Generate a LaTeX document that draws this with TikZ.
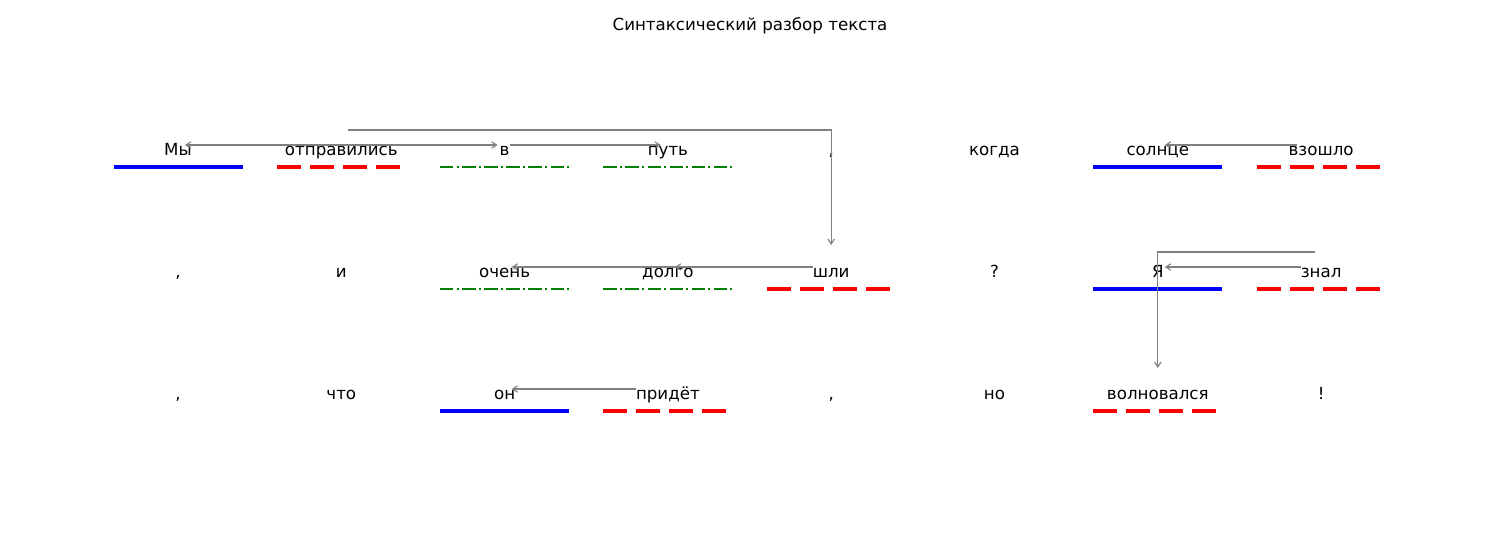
\documentclass[tikz,border=0pt]{standalone}
\usepackage{fontspec}
\setmainfont{DejaVu Sans}
\usetikzlibrary{arrows.meta}
\newcommand{\undl}[2]{\draw[#1] ([xshift=-46.44pt,yshift=-13.68pt]#2.center) -- ++(92.88pt,0pt);}
\begin{document}
\begin{tikzpicture}[x=0.72pt,y=-0.72pt,
 word/.style={font=\fontsize{12pt}{14pt}\selectfont, inner sep=0pt, text height=12.4pt, text depth=2.3pt, anchor=center},
 link/.style={draw=gray, line width=0.8pt, -{Straight Barb[length=3.6pt,width=4.6pt]}},
 subj/.style={draw=blue, line width=2.2pt},
 pred/.style={draw=red, line width=2.6pt, dash pattern=on 17.28pt off 6.48pt},
 minor/.style={draw=green!50!black, line width=1.5pt, dash pattern=on 9.6pt off 2.4pt on 1.5pt off 2.4pt}]
\useasboundingbox (0,0) rectangle (1500,560);
\node[word] (title) at (750,23) {Синтаксический разбор текста};
% row 1
\node[word] (my) at (178,148) {Мы};
\node[word] (otp) at (341.3,148) {отправились};
\node[word] (v) at (504.6,148) {в};
\node[word] (put) at (667.9,148) {путь};
\node[word] (c1) at (831.2,148) {,};
\node[word] (kogda) at (994.5,148) {когда};
\node[word] (solnce) at (1157.8,148) {солнце};
\node[word] (vzoshlo) at (1321.1,148) {взошло};
% row 2
\node[word] (c2) at (178,270) {,};
\node[word] (i) at (341.3,270) {и};
\node[word] (ochen) at (504.6,270) {очень};
\node[word] (dolgo) at (667.9,270) {долго};
\node[word] (shli) at (831.2,270) {шли};
\node[word] (q) at (994.5,270) {?};
\node[word] (ya) at (1157.8,270) {Я};
\node[word] (znal) at (1321.1,270) {знал};
% row 3
\node[word] (c3) at (178,392) {,};
\node[word] (chto) at (341.3,392) {что};
\node[word] (on) at (504.6,392) {он};
\node[word] (pridet) at (667.9,392) {придёт};
\node[word] (c4) at (831.2,392) {,};
\node[word] (no) at (994.5,392) {но};
\node[word] (volnov) at (1157.8,392) {волновался};
\node[word] (excl) at (1321.1,392) {!};
% underlines
\undl{subj}{my}
\undl{pred}{otp}
\undl{minor}{v}
\undl{minor}{put}
\undl{subj}{solnce}
\undl{pred}{vzoshlo}
\undl{minor}{ochen}
\undl{minor}{dolgo}
\undl{pred}{shli}
\undl{subj}{ya}
\undl{pred}{znal}
\undl{subj}{on}
\undl{pred}{pridet}
\undl{pred}{volnov}
% links
\draw[link] ([yshift=2.16pt]otp.center) -- ([xshift=5.04pt,yshift=2.16pt]my.center);
\draw[link] ([yshift=2.16pt]otp.center) -- ([xshift=-5.04pt,yshift=2.16pt]v.center);
\draw[link] ([yshift=2.16pt]v.east) -- ([xshift=-5.04pt,yshift=2.16pt]put.center);
\draw[link] ([xshift=5.04pt,yshift=12.96pt]otp.center) -| ([yshift=18pt]shli.center);
\draw[link] ([yshift=2.16pt]shli.west) -- ([xshift=5.04pt,yshift=2.16pt]dolgo.center);
\draw[link] ([yshift=2.16pt]shli.west) -- ([xshift=5.04pt,yshift=2.16pt]ochen.center);
\draw[link] ([xshift=6pt,yshift=2.16pt]vzoshlo.west) -- ([xshift=5.04pt,yshift=2.16pt]solnce.center);
\draw[link] ([yshift=2.16pt]znal.west) -- ([xshift=5.04pt,yshift=2.16pt]ya.center);
\draw[link] ([xshift=-4.32pt,yshift=12.96pt]znal.center) -| ([yshift=17.28pt]volnov.center);
\draw[link] ([yshift=2.16pt]pridet.west) -- ([xshift=5.04pt,yshift=2.16pt]on.center);
\end{tikzpicture}
\end{document}
